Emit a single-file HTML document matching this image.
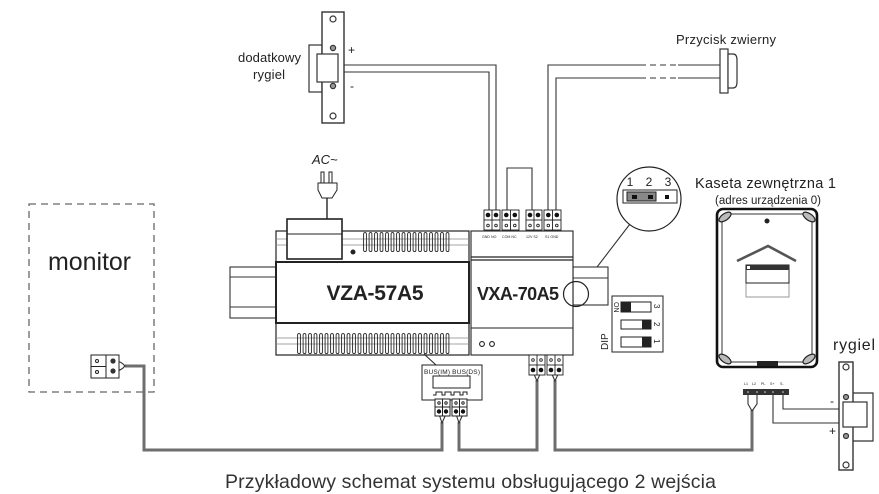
<!DOCTYPE html>
<html><head><meta charset="utf-8"><style>
html,body{margin:0;padding:0;background:#fff;}
svg{display:block;}
text{font-family:"Liberation Sans",Arial,sans-serif;fill:#222;}
</style></head><body>
<svg width="879" height="494" viewBox="0 0 879 494" xmlns="http://www.w3.org/2000/svg">
<defs>
<pattern id="ventT" patternUnits="userSpaceOnUse" x="363" y="232" width="5.5" height="21">
<rect x="0.6" y="0.6" width="2.8" height="19" rx="1.3" fill="none" stroke="#222" stroke-width="0.9"/>
</pattern>
<pattern id="ventB" patternUnits="userSpaceOnUse" x="297" y="333" width="5.5" height="22">
<rect x="0.6" y="0.6" width="2.8" height="20" rx="1.3" fill="none" stroke="#222" stroke-width="0.9"/>
</pattern>
</defs>
<rect width="879" height="494" fill="#fff"/>

<!-- gray bus wires -->
<g fill="none" stroke="#6e6e6e" stroke-width="3">
<path d="M125,366 H144 V450 H442 V422"/>
<path d="M459,422 V450 H537 V380"/>
<path d="M555,380 V450 H752 V410"/>
</g>

<!-- thin top wires -->
<g fill="none" stroke="#333" stroke-width="1.1">
<path d="M344,65 H496 V210"/>
<path d="M344,72 H489 V210"/>
<path d="M640,65 H548 V210"/>
<path d="M640,78 H556 V210"/>
<path d="M678,65 H720"/>
<path d="M678,78 H720"/>
<path d="M640,65 H678" stroke-dasharray="6 4"/>
<path d="M640,78 H678" stroke-dasharray="6 4"/>
<path d="M507,210 V168 H532 V210"/>
<line x1="327" y1="198" x2="327" y2="220" stroke-width="1.5"/>
<line x1="584" y1="284" x2="630" y2="224"/>
<path d="M783,395 V409 H839"/>
<path d="M773,395 V423 H839"/>
<path d="M748,395 V404 L752,411 M757,395 V404 L752,411"/>
<path d="M533,372 L537,381 L541,372"/>
<path d="M551,372 L555,381 L559,372"/>
<path d="M439,414 L442,423 L446,414"/>
<path d="M456,414 L459,423 L463,414"/>
<path d="M115,361 Q121,361 125,366 Q121,371 115,371"/>
</g>

<!-- dodatkowy rygiel -->
<g stroke="#333" stroke-width="1.2">
<rect x="309" y="45" width="13" height="47" fill="#fff"/>
<rect x="322" y="12" width="22" height="111" fill="#fff" stroke-width="1.4"/>
<rect x="317" y="54" width="21" height="28" fill="#fff"/>
<circle cx="333" cy="19" r="3" fill="none"/>
<circle cx="333" cy="116" r="3" fill="none"/>
<circle cx="333" cy="48" r="2.6" fill="#999"/>
<circle cx="333" cy="86" r="2.6" fill="#999"/>
</g>
<text x="348" y="54" font-size="12">+</text>
<text x="350" y="90" font-size="12">-</text>
<text x="238" y="62" font-size="13" textLength="63">dodatkowy</text>
<text x="253" y="79" font-size="13" textLength="32">rygiel</text>

<!-- Przycisk -->
<g stroke="#333" stroke-width="1.2" fill="#fff">
<rect x="720" y="49" width="8" height="44"/>
<path d="M728,54 H733 Q737,54 737,60 V82 Q737,88 733,88 H728 Z"/>
</g>
<text x="676" y="44" font-size="13" textLength="100">Przycisk zwierny</text>

<!-- plug -->
<text x="312" y="164" font-size="13" font-style="italic">AC~</text>
<g stroke="#222" stroke-width="1" fill="#fff">
<rect x="321" y="172" width="3" height="11"/>
<rect x="329" y="172" width="3" height="11"/>
<path d="M318,183 H337 V190 L332,198 H322 L318,190 Z"/>
</g>

<!-- DIN rails -->
<g stroke="#333" stroke-width="1.1" fill="#fff">
<rect x="230" y="267" width="46" height="51"/>
<line x1="230" y1="277" x2="276" y2="277"/>
<line x1="230" y1="307" x2="276" y2="307"/>
<rect x="573" y="267" width="35" height="38"/>
<line x1="573" y1="278" x2="608" y2="278"/>
</g>

<!-- VZA-57A5 -->
<g stroke="#222" fill="#fff">
<rect x="276" y="231" width="193" height="124" stroke-width="1.2"/>
<line x1="276" y1="239" x2="469" y2="239" stroke="#888" stroke-width="0.8"/>
<line x1="276" y1="245" x2="469" y2="245" stroke="#888" stroke-width="0.8"/>
<line x1="276" y1="338" x2="469" y2="338" stroke="#888" stroke-width="0.8"/>
<line x1="276" y1="344" x2="469" y2="344" stroke="#888" stroke-width="0.8"/>
<rect x="363" y="232" width="87" height="20" fill="url(#ventT)" stroke="none"/>
<rect x="297" y="333" width="154" height="21" fill="url(#ventB)" stroke="none"/>
<rect x="276" y="262" width="193" height="61" stroke-width="2"/>
<rect x="287" y="219" width="55" height="40" stroke-width="1.6"/>
<line x1="287" y1="234" x2="342" y2="234" stroke-width="1"/>
<circle cx="353" cy="252" r="2" fill="#222"/>
</g>
<text x="375" y="300" font-size="21" font-weight="bold" text-anchor="middle" textLength="97">VZA-57A5</text>

<!-- VXA-70A5 -->
<g stroke="#222" fill="#fff" stroke-width="1.1">
<rect x="471" y="231" width="102" height="124"/>
<line x1="471" y1="257" x2="573" y2="257" stroke-width="1.3"/>
<line x1="471" y1="260" x2="573" y2="260" stroke-width="1.3"/>
<line x1="471" y1="328" x2="573" y2="328"/>
<circle cx="482" cy="344" r="2.4" fill="none"/>
<circle cx="492" cy="344" r="2.4" fill="none"/>
<circle cx="576" cy="294" r="12.5" fill="none" stroke-width="1.2"/>
</g>
<text x="518" y="300" font-size="18" font-weight="bold" text-anchor="middle" textLength="82">VXA-70A5</text>

<!-- top terminal blocks -->
<g stroke="#222" stroke-width="0.9" fill="#fff">
<rect x="484" y="210" width="16" height="20"/><line x1="484" y1="220" x2="500" y2="220"/><line x1="492" y1="210" x2="492" y2="230"/>
<rect x="502" y="210" width="17" height="20"/><line x1="502" y1="220" x2="519" y2="220"/><line x1="510.5" y1="210" x2="510.5" y2="230"/>
<rect x="526" y="210" width="16" height="20"/><line x1="526" y1="220" x2="542" y2="220"/><line x1="534" y1="210" x2="534" y2="230"/>
<rect x="544" y="210" width="17" height="20"/><line x1="544" y1="220" x2="561" y2="220"/><line x1="552.5" y1="210" x2="552.5" y2="230"/>
<circle cx="488" cy="225.5" r="1.3"/><circle cx="496" cy="225.5" r="1.3"/>
<circle cx="506.3" cy="225.5" r="1.3"/><circle cx="514.8" cy="225.5" r="1.3"/>
<circle cx="530" cy="225.5" r="1.3"/><circle cx="538" cy="225.5" r="1.3"/>
<circle cx="548.3" cy="225.5" r="1.3"/><circle cx="556.8" cy="225.5" r="1.3"/>
</g>
<g fill="#111">
<circle cx="488" cy="215" r="2.3"/><circle cx="496" cy="215" r="2.3"/>
<circle cx="506.3" cy="215" r="2.3"/><circle cx="514.8" cy="215" r="2.3"/>
<circle cx="530" cy="215" r="2.3"/><circle cx="538" cy="215" r="2.3"/>
<circle cx="548.3" cy="215" r="2.3"/><circle cx="556.8" cy="215" r="2.3"/>
</g>
<g font-size="3.6" fill="#555">
<text x="482" y="238">GND NO</text><text x="502" y="238">COM NC</text><text x="526" y="238">12V S2</text><text x="545" y="238">S1 GND</text>
</g>

<!-- VXA bottom terminals -->
<g stroke="#222" stroke-width="0.9" fill="#fff">
<rect x="529" y="355" width="16" height="20"/><line x1="529" y1="365" x2="545" y2="365"/><line x1="537" y1="355" x2="537" y2="375"/>
<rect x="547" y="355" width="16" height="20"/><line x1="547" y1="365" x2="563" y2="365"/><line x1="555" y1="355" x2="555" y2="375"/>
<circle cx="533" cy="360" r="1.3"/><circle cx="541" cy="360" r="1.3"/>
<circle cx="551" cy="360" r="1.3"/><circle cx="559" cy="360" r="1.3"/>
</g>
<g fill="#111">
<circle cx="533" cy="370" r="2.3"/><circle cx="541" cy="370" r="2.3"/>
<circle cx="551" cy="370" r="2.3"/><circle cx="559" cy="370" r="2.3"/>
</g>

<!-- BUS module -->
<g stroke="#222" stroke-width="1" fill="#fff">
<line x1="424" y1="354" x2="436" y2="365"/>
<rect x="422" y="365" width="60" height="35"/>
<rect x="433" y="376" width="37" height="12"/>
<path d="M433,395 h3 v-3 h6 v3 h3 v-3 h6 v3 h3 v-3 h6 v3 h3 v-3 h4 v3" fill="none"/>
<rect x="435" y="399" width="15" height="17"/><line x1="435" y1="407" x2="450" y2="407"/><line x1="442.5" y1="399" x2="442.5" y2="416"/>
<rect x="452" y="399" width="15" height="17"/><line x1="452" y1="407" x2="467" y2="407"/><line x1="459.5" y1="399" x2="459.5" y2="416"/>
<circle cx="439" cy="403" r="1.2"/><circle cx="446" cy="403" r="1.2"/>
<circle cx="456" cy="403" r="1.2"/><circle cx="463" cy="403" r="1.2"/>
</g>
<g fill="#111">
<circle cx="439" cy="411.5" r="2.2"/><circle cx="446" cy="411.5" r="2.2"/>
<circle cx="456" cy="411.5" r="2.2"/><circle cx="463" cy="411.5" r="2.2"/>
</g>
<text x="424" y="374" font-size="6.5" textLength="56">BUS(IM) BUS(DS)</text>

<!-- magnifier -->
<circle cx="649" cy="199" r="32" fill="#fff" stroke="#222" stroke-width="1.2"/>
<text x="630" y="186" font-size="12" text-anchor="middle">1</text>
<text x="649" y="186" font-size="12" text-anchor="middle">2</text>
<text x="668" y="186" font-size="12" text-anchor="middle">3</text>
<rect x="623" y="190" width="54" height="13" fill="#fff" stroke="#222" stroke-width="1"/>
<rect x="627" y="192" width="29" height="9" fill="#888" stroke="#222" stroke-width="1"/>
<rect x="632" y="195" width="5" height="4" fill="#111"/>
<rect x="648" y="195" width="5" height="4" fill="#111"/>
<rect x="665" y="195" width="4" height="4" fill="#111"/>

<!-- DIP -->
<g stroke="#222" stroke-width="1" fill="#fff">
<rect x="612" y="296" width="51" height="56"/>
<rect x="621" y="302" width="30" height="10"/>
<rect x="621" y="320" width="30" height="9"/>
<rect x="621" y="337" width="30" height="10"/>
</g>
<rect x="621" y="302" width="10" height="10" fill="#222"/>
<rect x="642" y="320" width="9" height="9" fill="#222"/>
<rect x="642" y="337" width="9" height="10" fill="#222"/>
<text font-size="10" transform="translate(608,350) rotate(-90)">DIP</text>
<text font-size="7" transform="translate(614,302) rotate(90)">ON</text>
<text font-size="8" transform="translate(654,304) rotate(90)">3</text>
<text font-size="8" transform="translate(654,322) rotate(90)">2</text>
<text font-size="8" transform="translate(654,339) rotate(90)">1</text>

<!-- Kaseta -->
<text x="695" y="188" font-size="14.5" textLength="141">Kaseta zewnętrzna 1</text>
<text x="715" y="204" font-size="11.5" textLength="106">(adres urządzenia 0)</text>
<rect x="717" y="209" width="100" height="158" rx="6" fill="#fff" stroke="#111" stroke-width="2.6"/>
<rect x="722" y="214" width="90" height="148" rx="3" fill="none" stroke="#333" stroke-width="1"/>
<g fill="#bbb" stroke="#222" stroke-width="1.2">
<ellipse cx="725" cy="217" rx="7" ry="3.3" transform="rotate(-35 725 217)"/>
<ellipse cx="809" cy="217" rx="7" ry="3.3" transform="rotate(35 809 217)"/>
<ellipse cx="725" cy="359" rx="7" ry="3.3" transform="rotate(35 725 359)"/>
<ellipse cx="809" cy="359" rx="7" ry="3.3" transform="rotate(-35 809 359)"/>
</g>
<circle cx="767" cy="221" r="2.5" fill="#222"/>
<polyline points="737,261 768,246 796,261" fill="none" stroke="#555" stroke-width="2.6"/>
<rect x="746" y="265" width="43" height="32" fill="#fff" stroke="#999" stroke-width="1"/>
<rect x="746" y="265" width="43" height="18" fill="none" stroke="#222" stroke-width="1"/>
<rect x="746" y="265" width="43" height="5" fill="#333"/>
<rect x="747" y="266" width="3" height="3" fill="#fff"/>
<rect x="757" y="361" width="21" height="5" fill="#222"/>

<!-- kaseta terminal -->
<g font-size="3.6" fill="#555">
<text x="744" y="385">L1</text><text x="752" y="385">L2</text><text x="761" y="385">PL</text><text x="770" y="385">S+</text><text x="780" y="385">S-</text>
</g>
<rect x="743" y="389" width="46" height="6" fill="#333"/>
<g fill="#ddd">
<circle cx="748" cy="392" r="0.8"/><circle cx="757" cy="392" r="0.8"/><circle cx="765" cy="392" r="0.8"/><circle cx="773" cy="392" r="0.8"/><circle cx="783" cy="392" r="0.8"/>
</g>

<!-- rygiel right -->
<text x="833" y="350" font-size="16" textLength="42">rygiel</text>
<g stroke="#333" stroke-width="1.2">
<path d="M853,393 H873 V441 H853" fill="#fff"/>
<rect x="839" y="362" width="14" height="108" fill="#fff" stroke-width="1.4"/>
<rect x="843" y="402" width="24" height="25" fill="#fff"/>
<circle cx="846" cy="367" r="3" fill="none"/>
<circle cx="846" cy="465" r="3" fill="none"/>
<circle cx="846" cy="397" r="2.5" fill="#999"/>
<circle cx="846" cy="436" r="2.5" fill="#999"/>
</g>
<text x="830" y="405" font-size="12">-</text>
<text x="829" y="435" font-size="12">+</text>

<!-- monitor -->
<rect x="29" y="204" width="125" height="188" fill="none" stroke="#666" stroke-width="1.3" stroke-dasharray="7 5"/>
<text x="48" y="270" font-size="25" textLength="83">monitor</text>
<g stroke="#222" stroke-width="1" fill="#fff">
<rect x="91" y="355" width="28" height="23"/>
<line x1="106" y1="355" x2="106" y2="378"/>
<line x1="91" y1="366.5" x2="106" y2="366.5"/>
<circle cx="97" cy="361" r="1.5"/>
<circle cx="97" cy="372" r="1.5"/>
</g>
<circle cx="113" cy="361" r="2.6" fill="#333"/>
<circle cx="113" cy="371" r="2.6" fill="#333"/>

<!-- caption -->
<text x="225" y="488" font-size="19.5" textLength="491" style="fill:#333">Przykładowy schemat systemu obsługującego 2 wejścia</text>
</svg>
</body></html>
